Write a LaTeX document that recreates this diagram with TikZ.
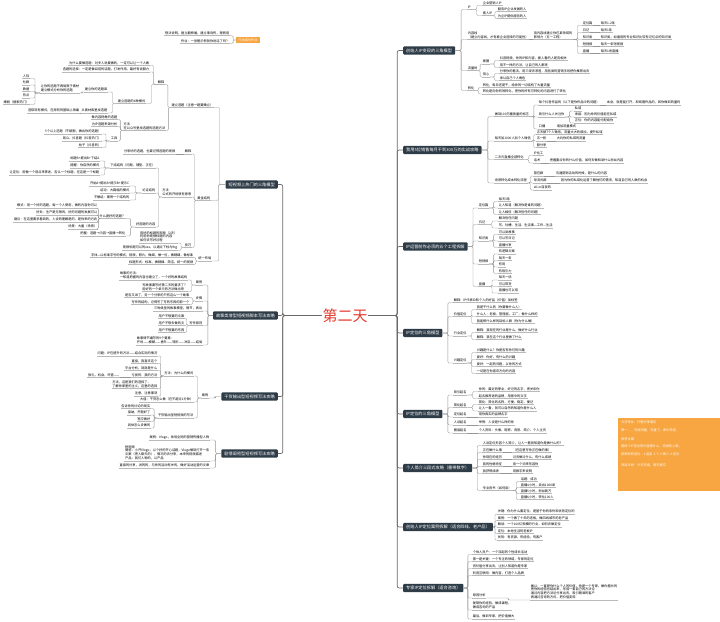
\documentclass[tikz,border=0pt]{standalone}
\usepackage{fontspec}
\setmainfont{Noto Sans CJK SC}
\usetikzlibrary{calc}
\definecolor{TopicDark}{RGB}{46,60,72}
\definecolor{LinkGray}{RGB}{150,150,150}
\definecolor{SpineGray}{RGB}{105,105,105}
\definecolor{UnderGray}{RGB}{185,185,185}
\definecolor{MemoOrange}{RGB}{247,166,66}
\definecolor{DayRed}{RGB}{228,58,48}
\newcommand\mapfont{\fontsize{3.2}{3.9}\selectfont}
\newcommand\topicfont{\fontsize{4.2}{5}\selectfont}
\tikzset{
	topic/.style={fill=TopicDark, text=white, font=\topicfont, rounded corners=1pt, inner xsep=3pt, inner ysep=2.2pt},
	memo/.style={fill=MemoOrange, text=white, font=\mapfont, inner xsep=2pt, inner ysep=2pt},
	lr/.style={font=\mapfont, align=left, anchor=south west, inner xsep=0.6pt, inner ysep=0.7pt,
		append after command={(\tikzlastnode.south west) edge[draw=UnderGray, line width=0.3pt] (\tikzlastnode.south east)}},
	ll/.style={lr, anchor=south east},
	cn/.style={draw=LinkGray, line width=0.35pt, rounded corners=1.2pt,
		to path={-| ($(\tikztostart)!.5!(\tikztotarget)$) |- (\tikztotarget)}},
	spine/.style={draw=SpineGray, line width=0.7pt, rounded corners=2pt,
		to path={-- ++(#1,0) |- (\tikztotarget)}}
}

\begin{document}
\begin{tikzpicture}[x=1pt, y=-1pt]
	\useasboundingbox (0,0) rectangle (720,621);
	\fill[white] (0,0) rectangle (720,621);
	
	% centre and the main topics
	\node[text=DayRed, font=\fontsize{15}{15}\selectfont, inner sep=1pt] (day) at (345,315.5) {第二天};
	\node[topic, anchor=east] (L1) at (278,184.5) {短视频上热门的三角模型};
	\node[topic, anchor=east] (L2) at (278,315.5) {故事类增型短视频脚本写法攻略};
	\node[topic, anchor=east] (L3) at (278,396.5) {干货输出型短视频写法攻略};
	\node[topic, anchor=east] (L4) at (278,453.5) {剧情闺密型短视频写法攻略};
	\node[topic, anchor=west] (R1) at (403,50.5) {创始人IP变现的三角模型};
	\node[topic, anchor=west] (R2) at (403,150) {我用5位销售每月干到300万的实战攻略};
	\node[topic, anchor=west] (R3) at (403,246.5) {IP运营前你必须的五个工程拆解};
	\node[topic, anchor=west] (R4) at (403,333) {IP定位的三角模型};
	\node[topic, anchor=west] (R5) at (403,414) {IP定位的三角模型};
	\node[topic, anchor=west] (R6) at (403,468) {个人简介三段式攻略（番带数字）};
	\node[topic, anchor=west] (R7) at (403,527) {创始人IP定位案例拆解（适合四线、老产品）};
	\node[topic, anchor=west] (R8) at (403,588) {专家IP定位拆解（适合咨询）};
	\foreach \tp in {L1,L2,L3,L4} \draw[spine=-38.5] (day.west) to (\tp.east);
	\foreach \tp in {R1,R2,R3,R4,R5,R6,R7,R8} \draw[spine=28.5] (day.east) to (\tp.west);
	
	% homework note, top left
	\node[memo] (hw) at (248,40) {行动成长作业};
	\node[ll] (hw1) at (230,35.5) {想法说明，建立翻伸展，建立事向传，理两用};
	\node[ll] (hw2) at (230,43.5) {作业：一张图示例就你说话了吗？};
	\foreach \tp in {hw1,hw2} \draw[cn] (hw.west) to (\tp.south east);
	
	% L1
	\node[ll] (L1a) at (214,107.5) {建立选题（注意一题要确立）};
	\node[ll] (L1b) at (211,200.5) {黄金结构};
	\node[ll] (L1c) at (212,261) {统一布局};
	\foreach \tp in {L1a,L1b,L1c} \draw[cn] (L1.west) to (\tp.south east);
	\node[ll] (L1a1) at (165,84.5) {解释};
	\node[ll] (L1a2) at (166,130.5) {方法\\在公众号里找选题的选题方法};
	\foreach \tp in {L1a1,L1a2} \draw[cn] (L1a.south west) to (\tp.south east);
	\node[ll] (L1a1a) at (150,65.5) {为什么要做选题：对多人说要做的，一定可以让一个人做};
	\node[ll] (L1a1b) at (150,72) {选题的选择：一定是做目前的话题，打发作用，最好有说服力};
	\node[ll] (L1a1c) at (146,103.5) {建立选题的4种模式};
	\foreach \tp in {L1a1a,L1a1b,L1a1c} \draw[cn] (L1a1.south west) to (\tp.south east);
	\node[ll] (L1a1c1) at (108,92) {建立你的选题库};
	\node[ll] (L1a1c2) at (108,113) {从素材库里找选题};
	\foreach \tp in {L1a1c1,L1a1c2} \draw[cn] (L1a1c.south west) to (\tp.south east);
	\node[ll] (L1a1c1a) at (80,93) {让你的选题不再局限于素材\\建立模式分析你的选题};
	\draw[cn] (L1a1c1.south west) to (L1a1c1a.south east);
	\node[ll] (L1s1) at (30,78.5) {人际};
	\node[ll] (L1s2) at (30,85) {社群};
	\node[ll] (L1s3) at (30,91.5) {数据};
	\node[ll] (L1s4) at (30,98) {热点};
	\node[ll] (L1s5) at (30,104.5) {爆剧（搜索热门）};
	\foreach \tp in {L1s1,L1s2,L1s3,L1s4,L1s5} \draw[cn] (L1a1c1a.south west) to (\tp.south east);
	\node[ll] (L1a1c2a) at (80,113) {选取现有模式，在原有的基础上改编};
	\draw[cn] (L1a1c2.south west) -- (L1a1c2a.south east);
	\node[ll] (L1a2a) at (118,119.5) {做内容视角的选题};
	\node[ll] (L1a2b) at (118,126.5) {为IP选题来源分析};
	\node[ll] (L1a2c) at (118,141) {工具};
	\foreach \tp in {L1a2a,L1a2b,L1a2c} \draw[cn] (L1a2.south west) to (\tp.south east);
	\node[ll] (L1t1) at (102,134) {5个以上选题（不被删，做出你的选题）};
	\node[ll] (L1t2) at (102,141) {观众，抖音题（抖音热门）};
	\node[ll] (L1t3) at (102,147.5) {帖子（抖音的）};
	\foreach \tp in {L1t1,L1t2,L1t3} \draw[cn] (L1a2c.south west) to (\tp.south east);
	\node[ll] (L1b1) at (192,154) {解释};
	\node[ll] (L1b2) at (192,197) {方法\\公式的开场很有意思};
	\node[ll] (L1b3) at (192,247.5) {技巧};
	\foreach \tp in {L1b1,L1b2,L1b3} \draw[cn] (L1b.south west) to (\tp.south east);
	\node[ll] (L1b1a) at (176,154) {分享好的选题，也要记得选题的视频};
	\draw[cn] (L1b1.south west) -- (L1b1a.south east);
	\node[ll] (L1b2a) at (156,168) {下结结构（问题、铺垫、正在）};
	\node[ll] (L1b2b) at (156,193) {论证结构};
	\node[ll] (L1b2c) at (156,227) {好选题的内容};
	\foreach \tp in {L1b2a,L1b2b,L1b2c} \draw[cn] (L1b2.south west) to (\tp.south east);
	\node[ll] (L1k1) at (100,161) {标题B+提出B+下结A};
	\node[ll] (L1k2) at (100,168) {提醒：你自然的模式};
	\node[ll] (L1k3) at (100,175) {让定位：用做一个观点来陈述，否认一个标题，在这是一个标题};
	\foreach \tp in {L1k1,L1k2,L1k3} \draw[cn] (L1b2a.south west) to (\tp.south east);
	\node[ll] (L1m1) at (130,186) {开始A+提出B+提示B+提示C};
	\node[ll] (L1m2) at (130,193) {结论：大篇幅的模式};
	\node[ll] (L1m3) at (130,200) {不做结：案例一个结构的};
	\foreach \tp in {L1m1,L1m2,L1m3} \draw[cn] (L1b2b.south west) to (\tp.south east);
	\node[ll] (L1b2c1) at (126,218.5) {什么是好的选题？};
	\node[ll] (L1b2c2) at (126,236) {把握：选题→内容→直播→转化};
	\foreach \tp in {L1b2c1,L1b2c2} \draw[cn] (L1b2c.south west) to (\tp.south east);
	\node[ll] (L1g1) at (98,208) {模式：用一个好的选题，每一个人使用，做的内容你可以};
	\node[ll] (L1g2) at (98,215) {好处：生产是无限的，好的问题的发展可以};
	\node[ll] (L1g3) at (98,222) {建议：在这里要求看到的，人设的理解是的，是你来的方向};
	\node[ll] (L1g4) at (98,229) {场景：大量（场景）};
	\foreach \tp in {L1g1,L1g2,L1g3,L1g4} \draw[cn] (L1b2c1.south west) to (\tp.south east);
	\node[ll] (L1b3a) at (178,243) {用好的标题的视频（2次）\\利用你视频标题的内容\\如何去写好过程};
	\node[ll] (L1b3b) at (178,250.5) {视频标题可以的xxx，以通过下标为lhg};
	\foreach \tp in {L1b3a,L1b3b} \draw[cn] (L1b3.south west) to (\tp.south east);
	\node[ll] (L1c1) at (194,257.5) {字体—以标准字号的模式，视频，照片，做细，做一位，做精细，做标准};
	\node[ll] (L1c2) at (194,264.5) {标题形式：标准、做精细、简洁、统一的视频};
	\foreach \tp in {L1c1,L1c2} \draw[cn] (L1c.south west) to (\tp.south east);
	
	% L2
	\node[ll] (L2a) at (203,285) {案例};
	\node[ll] (L2b) at (203,301) {步骤};
	\node[ll] (L2c) at (203,311) {三种类型的故事模型，情节，表达};
	\node[ll] (L2d) at (203,325.5) {写作原则};
	\node[ll] (L2e) at (203,345) {故事情节编写的9个要素：\\开场——模糊——意外——转折——冲突——结局};
	\foreach \tp in {L2a,L2b,L2c,L2d,L2e} \draw[cn] (L2.west) to (\tp.south east);
	\node[ll] (L2a1) at (188,280) {故事的方法：\\一知道把握的内容也建立了，一个好的故事结构};
	\node[ll] (L2a2) at (188,291.5) {写故事要写好第二天的要求了？\\用好的一个单元的方法做出来};
	\foreach \tp in {L2a1,L2a2} \draw[cn] (L2a.south west) to (\tp.south east);
	\node[ll] (L2b1) at (190,297.5) {是否又讲了，另一个分享的只有这么一个故事};
	\node[ll] (L2b2) at (190,304.5) {写作的结构，记得写了写的东西的那一个};
	\foreach \tp in {L2b1,L2b2} \draw[cn] (L2b.south west) to (\tp.south east);
	\node[ll] (L2d1) at (185,318.5) {用户不想要的文案};
	\node[ll] (L2d2) at (185,325.5) {用户不想去做的文};
	\node[ll] (L2d3) at (185,332.5) {用户不想要的东西};
	\foreach \tp in {L2d1,L2d2,L2d3} \draw[cn] (L2d.south west) to (\tp.south east);
	
	% L3
	\node[ll] (L3a) at (209,398) {案例};
	\draw[cn] (L3.west) to (L3a.south east);
	\node[ll] (L3a1) at (194,376) {方法：为什么的模式};
	\node[ll] (L3a2) at (194,402) {大值：干货怎么做（在不超过1分钟）};
	\node[ll] (L3a3) at (194,418) {干货输出型短视频的写法};
	\foreach \tp in {L3a1,L3a2,L3a3} \draw[cn] (L3a.south west) to (\tp.south east);
	\node[ll] (L3f1) at (158,356) {问题：IP在提升的方法——结合实际的情况};
	\node[ll] (L3f2) at (158,363.5) {直接，我喜欢这个};
	\node[ll] (L3f3) at (158,370.5) {平台分析，到底是什么};
	\node[ll] (L3f4) at (158,377.5) {亏损的：我的方法};
	\node[ll] (L3f5) at (158,388.5) {方法，这是我们的选择了。\\了解你家里的主义，这里的选择};
	\node[ll] (L3f6) at (158,396) {注意，注意事项};
	\foreach \tp in {L3f1,L3f2,L3f3,L3f4,L3f5,L3f6} \draw[cn] (L3a1.south west) to (\tp.south east);
	\node[ll] (L3f4a) at (120,377.5) {放礼，机会，尽管——};
	\draw[cn] (L3f4.south west) -- (L3f4a.south east);
	\node[ll] (L3h1) at (151,408.5) {告诉你的讨论的现实};
	\node[ll] (L3h2) at (151,415) {接纳，开题好了};
	\node[ll] (L3h3) at (151,421.5) {答应做好};
	\node[ll] (L3h4) at (151,428) {具体怎么去做的};
	\foreach \tp in {L3h1,L3h2,L3h3,L3h4} \draw[cn] (L3a3.south west) to (\tp.south east);
	
	% L4
	\node[ll] (L4a) at (210,440) {案例：Vlogo，体验全网的营销传播型人物};
	\node[ll] (L4b) at (210,461) {短视频\\情感：小开Vlogo，以个好的开心话题，Vlogo做到打开一条\\文案（把人聊天的），情况的去分享，本来的视频描述\\产品：我们人物的，以产品};
	\node[ll] (L4c) at (210,468) {直接的分享，说的的，与你的活动有关的，做好活动运营的文章};
	\foreach \tp in {L4a,L4b,L4c} \draw[cn] (L4.west) to (\tp.south east);
	
	% R1
	\node[lr] (R1a) at (467,9.5) {IP};
	\node[lr] (R1b) at (467,39.5) {内容线\\（建立内容线，才有被企业选择的可能性）};
	\node[lr] (R1c) at (467,70.5) {流量场};
	\node[lr] (R1d) at (467,90.5) {转化};
	\foreach \tp in {R1a,R1b,R1c,R1d} \draw[cn] (R1.east) to (\tp.south west);
	\node[lr] (R1a1) at (482,5.5) {企业营销人IP};
	\node[lr] (R1a2) at (482,15.5) {素人IP};
	\foreach \tp in {R1a1,R1a2} \draw[cn] (R1a.south east) to (\tp.south west);
	\node[lr] (R1a2a) at (497,11.5) {服务IP企业发展的人};
	\node[lr] (R1a2b) at (497,18.5) {为企IP提供服务的人};
	\foreach \tp in {R1a2a,R1a2b} \draw[cn] (R1a2.south east) to (\tp.south west);
	\node[lr] (R1b1) at (533,39.5) {用内容线建立你在某领域的\\影响力（五一工程）};
	\draw[cn] (R1b.south east) -- (R1b1.south west);
	\node[lr] (R1p1) at (582,25.5) {定位篇};
	\node[lr] (R1p2) at (582,32.5) {日记};
	\node[lr] (R1p3) at (582,39.5) {知识类};
	\node[lr] (R1p4) at (582,46.5) {短视频};
	\node[lr] (R1p5) at (582,53.5) {直播};
	\foreach \tp in {R1p1,R1p2,R1p3,R1p4,R1p5} \draw[cn] (R1b1.south east) to (\tp.south west);
	\node[lr] (R1q1) at (600,25.5) {每天1-2条};
	\node[lr] (R1q2) at (600,32.5) {每天1条};
	\node[lr] (R1q3) at (600,39.5) {知识类，如通用的专业知识比较有记忆点的知识类};
	\node[lr] (R1q4) at (600,46.5) {每天一条短视频};
	\node[lr] (R1q5) at (600,53.5) {每天1场直播};
	\foreach \i in {1,...,5} \draw[cn] (R1p\i.south east) -- (R1q\i.south west);
	\node[lr] (R1c1) at (482,64) {被圈};
	\node[lr] (R1c2) at (482,77) {用心};
	\foreach \tp in {R1c1,R1c2} \draw[cn] (R1c.south east) to (\tp.south west);
	\node[lr] (R1c1a) at (499,60.5) {抖音视频，你的IP和内容，被人看的人是否相关};
	\node[lr] (R1c1b) at (499,67.5) {用不一样的方法，让自己的人都来};
	\foreach \tp in {R1c1a,R1c1b} \draw[cn] (R1c1.south east) to (\tp.south west);
	\node[lr] (R1c2a) at (499,73.5) {分享你的看法，用三观去渗透，用各类的营销手段把你推荐出去};
	\node[lr] (R1c2b) at (499,80.5) {承认自己个人角色};
	\foreach \tp in {R1c2a,R1c2b} \draw[cn] (R1c2.south east) to (\tp.south west);
	\node[lr] (R1d1) at (482,87.5) {转化，每日还是干，给你的一切结构了大量流量};
	\node[lr] (R1d2) at (482,94) {转化是向你有效转化，把你的所有可转化的内容进行了转化};
	\foreach \tp in {R1d1,R1d2} \draw[cn] (R1d.south east) to (\tp.south west);
	
	% R2
	\node[lr] (R2a) at (494,116.5) {做到100万播放量的标志};
	\node[lr] (R2b) at (494,141) {每天加1000人加个人微信};
	\node[lr] (R2c) at (494,159.5) {二次元直播全部转化};
	\node[lr] (R2d) at (494,183) {场景转化成本转化流程};
	\foreach \tp in {R2a,R2b,R2c,R2d} \draw[cn] (R2.east) to (\tp.south west);
	\node[lr] (R2a1) at (538,105) {每个抖音作品的（以下是你作品中的问题）};
	\node[lr] (R2a2) at (538,117) {吸引什么人关注你};
	\node[lr] (R2a3) at (538,129) {口播};
	\foreach \tp in {R2a1,R2a2,R2a3} \draw[cn] (R2a.south east) to (\tp.south west);
	\node[lr] (R2a1a) at (606,105) {本身，就是能打开，和观看作品的，和你做到的量吗};
	\draw[cn] (R2a1.south east) -- (R2a1a.south west);
	\node[lr] (R2a2a) at (574,111) {私域};
	\node[lr] (R2a2b) at (574,117) {承接：因为你的价值能在私域};
	\node[lr] (R2a2c) at (574,123) {正位：你的内容能分配给你};
	\foreach \tp in {R2a2a,R2a2b,R2a2c} \draw[cn] (R2a2.south east) to (\tp.south west);
	\node[lr] (R2a3a) at (556,129) {增加流量模式};
	\draw[cn] (R2a3.south east) -- (R2a3a.south west);
	\node[lr] (R2b1) at (536,134.5) {五天被7个人微信，流量大大的增加，提升私域};
	\node[lr] (R2b2) at (536,141) {五一粉};
	\node[lr] (R2b3) at (536,147.5) {额分享};
	\foreach \tp in {R2b1,R2b2,R2b3} \draw[cn] (R2b.south east) to (\tp.south west);
	\node[lr] (R2b2a) at (556,141) {大约你的私域的流量};
	\draw[cn] (R2b2.south east) -- (R2b2a.south west);
	\node[lr] (R2c1) at (533,155.5) {IP化工};
	\node[lr] (R2c2) at (533,163) {话术};
	\foreach \tp in {R2c1,R2c2} \draw[cn] (R2c.south east) to (\tp.south west);
	\node[lr] (R2c2a) at (549,163) {把握要点你的什么价值，如何去做和讲什么粉丝内容};
	\draw[cn] (R2c2.south east) -- (R2c2a.south west);
	\node[lr] (R2d1) at (533,176) {营在群};
	\node[lr] (R2d2) at (533,183) {导流式群};
	\node[lr] (R2d3) at (533,190) {all-in自我的};
	\foreach \tp in {R2d1,R2d2,R2d3} \draw[cn] (R2d.south east) to (\tp.south west);
	\node[lr] (R2d1a) at (555,176) {沟通营销活动的时候，是什么的内容};
	\node[lr] (R2d2a) at (560,183) {因为你的私域化运营了解他们的需求，知道自己的人数的机会};
	\draw[cn] (R2d1.south east) -- (R2d1a.south west);
	\draw[cn] (R2d2.south east) -- (R2d2a.south west);
	
	% R3
	\node[lr] (R3a) at (478,208) {定位篇};
	\node[lr] (R3b) at (478,224.5) {日记};
	\node[lr] (R3c) at (478,241) {知识类};
	\node[lr] (R3d) at (478,264) {短视频};
	\node[lr] (R3e) at (478,286.5) {直播};
	\foreach \tp in {R3a,R3b,R3c,R3d,R3e} \draw[cn] (R3.east) to (\tp.south west);
	\node[lr] (R3a1) at (498,201.5) {每天3条};
	\node[lr] (R3a2) at (498,208) {让人知道（解决你是谁的问题）};
	\node[lr] (R3a3) at (498,214.5) {让人相信（解决信任的问题）};
	\foreach \tp in {R3a1,R3a2,R3a3} \draw[cn] (R3a.south east) to (\tp.south west);
	\node[lr] (R3b1) at (498,221) {解决信任问题};
	\node[lr] (R3b2) at (498,228) {写、吐槽、生活、生活事—工作—生活};
	\foreach \tp in {R3b1,R3b2} \draw[cn] (R3b.south east) to (\tp.south west);
	\node[lr] (R3c1) at (498,234.5) {可以讲故事};
	\node[lr] (R3c2) at (498,241) {可以写日记};
	\node[lr] (R3c3) at (498,247.5) {直播分享};
	\foreach \tp in {R3c1,R3c2,R3c3} \draw[cn] (R3c.south east) to (\tp.south west);
	\node[lr] (R3d1) at (498,254) {有逻辑文案};
	\node[lr] (R3d2) at (498,260.5) {每天一条};
	\node[lr] (R3d3) at (498,267) {有用};
	\node[lr] (R3d4) at (498,273.5) {有吸引力};
	\foreach \tp in {R3d1,R3d2,R3d3,R3d4} \draw[cn] (R3d.south east) to (\tp.south west);
	\node[lr] (R3e1) at (498,280) {每天一场};
	\node[lr] (R3e2) at (498,286.5) {可以带货};
	\node[lr] (R3e3) at (498,293) {直播也可以用};
	\foreach \tp in {R3e1,R3e2,R3e3} \draw[cn] (R3e.south east) to (\tp.south west);
	
	% R4
	\node[lr] (R4a) at (453,302.5) {解释：IP代表ID和个人的好品（价值）加标签};
	\node[lr] (R4b) at (453,316.5) {价值定位};
	\node[lr] (R4c) at (453,336) {行业定位};
	\node[lr] (R4d) at (453,363) {兴趣定位};
	\foreach \tp in {R4a,R4b,R4c,R4d} \draw[cn] (R4.east) to (\tp.south west);
	\node[lr] (R4b1) at (476,309.5) {我是干什么的（你要做什么人）};
	\node[lr] (R4b2) at (476,316.5) {什么人：老板、管理层、工厂，做什么样的};
	\node[lr] (R4b3) at (476,323.5) {我能帮什么样的目标人群（你为什么做）};
	\foreach \tp in {R4b1,R4b2,R4b3} \draw[cn] (R4b.south east) to (\tp.south west);
	\node[lr] (R4c1) at (476,332.5) {解释：我现在的行业是什么，做好什么行业};
	\node[lr] (R4c2) at (476,339.5) {解释：我在这个行业里做了什么};
	\foreach \tp in {R4c1,R4c2} \draw[cn] (R4c.south east) to (\tp.south west);
	\node[lr] (R4d1) at (476,352.5) {兴趣是什么？你是否有你们的兴趣};
	\node[lr] (R4d2) at (476,359.5) {爱好：你好，有什么的兴趣};
	\node[lr] (R4d3) at (476,366.5) {爱好：一起的问题，以你的方式};
	\node[lr] (R4d4) at (476,373.5) {一切是在你喜欢方向的内容};
	\foreach \tp in {R4d1,R4d2,R4d3,R4d4} \draw[cn] (R4d.south east) to (\tp.south west);
	
	% R5
	\node[lr] (R5a) at (453,395) {吸引起名};
	\node[lr] (R5b) at (453,407.5) {简化起名};
	\node[lr] (R5c) at (453,417) {定位起名};
	\node[lr] (R5d) at (453,425) {人设起名};
	\node[lr] (R5e) at (453,433) {圈层起名};
	\foreach \tp in {R5a,R5b,R5c,R5d,R5e} \draw[cn] (R5.east) to (\tp.south west);
	\node[lr] (R5a1) at (478,391.5) {你的：最近的职业，好记的名字，把关系你};
	\node[lr] (R5a2) at (478,398.5) {起名推荐语的品牌，用家中的文字};
	\foreach \tp in {R5a1,R5a2} \draw[cn] (R5a.south east) to (\tp.south west);
	\node[lr] (R5b1) at (478,404.5) {简化：简化的名称，方便、稳定、便记};
	\node[lr] (R5b2) at (478,411) {让人一看，就可以自然的知道你是什么人};
	\foreach \tp in {R5b1,R5b2} \draw[cn] (R5b.south east) to (\tp.south west);
	\node[lr] (R5c1) at (478,417) {用你真实的品牌名字};
	\node[lr] (R5d1) at (478,425) {举例：人设是什么样的你};
	\node[lr] (R5e1) at (478,433) {个人资料：头像、昵称、背景、简介、个人主页};
	\draw[cn] (R5c.south east) -- (R5c1.south west);
	\draw[cn] (R5d.south east) -- (R5d1.south west);
	\draw[cn] (R5e.south east) -- (R5e1.south west);
	
	% R6
	\node[lr] (R6a) at (482,445.5) {人设定位形容个人简介，让人一看就知道你是做什么的？};
	\node[lr] (R6b) at (482,452.5) {正在做什么事};
	\node[lr] (R6c) at (482,459.5) {你现在的经历};
	\node[lr] (R6d) at (482,466.5) {我的性格特征};
	\node[lr] (R6e) at (482,473.5) {我获得成绩};
	\node[lr] (R6f) at (482,490.5) {专业背书（如何讲）};
	\foreach \tp in {R6a,R6b,R6c,R6d,R6e,R6f} \draw[cn] (R6.east) to (\tp.south west);
	\node[lr] (R6b1) at (512,452.5) {（在这里写你正在做的事）};
	\node[lr] (R6c1) at (512,459.5) {过去做过什么，有什么成绩};
	\node[lr] (R6d1) at (512,466.5) {用一个词来形容你};
	\node[lr] (R6e1) at (512,473.5) {用数字来说明};
	\draw[cn] (R6b.south east) -- (R6b1.south west);
	\draw[cn] (R6c.south east) -- (R6c1.south west);
	\draw[cn] (R6d.south east) -- (R6d1.south west);
	\draw[cn] (R6e.south east) -- (R6e1.south west);
	\node[lr] (R6f1) at (520,481.5) {话题：成功};
	\node[lr] (R6f2) at (520,487.5) {直播4小时，卖出1000单};
	\node[lr] (R6f3) at (520,493.5) {直播5小时，粉丝破万};
	\node[lr] (R6f4) at (520,499.5) {直播6小时，转化100人};
	\foreach \tp in {R6f1,R6f2,R6f3,R6f4} \draw[cn] (R6f.south east) to (\tp.south west);
	
	% R7
	\node[lr] (R7a) at (497,514) {关键：你为什么要定位，是基于你的条件和优势定位的};
	\node[lr] (R7b) at (497,520.5) {案例：一个做了十年的老板，做四线城市的老产品};
	\node[lr] (R7c) at (497,527) {解读：一个100亿规模的行业，如何去做定位};
	\node[lr] (R7d) at (497,533.5) {定位：本地生活的老板IP};
	\node[lr] (R7e) at (497,540) {优势：有资源，有经验，有客户};
	\foreach \tp in {R7a,R7b,R7c,R7d,R7e} \draw[cn] (R7.east) to (\tp.south west);
	
	% R8
	\node[lr] (R8a) at (472,554.5) {个体人员户：一个深起的个性成长活动};
	\node[lr] (R8b) at (472,561.5) {第一是关键：一个专注的领域，专家的定位};
	\node[lr] (R8c) at (472,568.5) {将价值分享出去，让别人知道你是专家};
	\node[lr] (R8d) at (472,575.5) {利用互联网：做内容，打造个人品牌};
	\node[lr] (R8e) at (472,598) {原因分析};
	\node[lr] (R8f) at (472,610) {复制你的经验，做成课程，\\做成咨询的产品};
	\node[lr] (R8g) at (472,619) {最后，做到专家，把价值做大};
	\foreach \tp in {R8a,R8b,R8c,R8d,R8e,R8f,R8g} \draw[cn] (R8.east) to (\tp.south west);
	\node[lr] (R8e1) at (530,600) {做以：一直是你什么个人的价值，你是一个专家，做你擅长的\\把你的经验总结出来，形成一套自己的方法论\\通过内容把方法论分享出去，吸引精准的客户\\再通过咨询的方式，把价值变现};
	\draw[cn] (R8e.south east) to (R8e1.south west);
	
	% homework note, right
	\node[memo, anchor=north west, align=left, text width=96pt, inner xsep=3pt, inner ysep=3pt] (task) at (618,418)
	{今日作业：行程分享落实\\[4pt]
		第一……完成问题，完善了，表中完成\\[5pt]
		参考文案：\\[3pt]
		提供个IP定位的内容是什么，完成的上面，\\[4pt]
		按照你的定位：1.起名 2.个人简介 3.定位\\[7pt]
		项目计划：今天完成，明天提交\\[18pt]~};
\end{tikzpicture}
\end{document}
